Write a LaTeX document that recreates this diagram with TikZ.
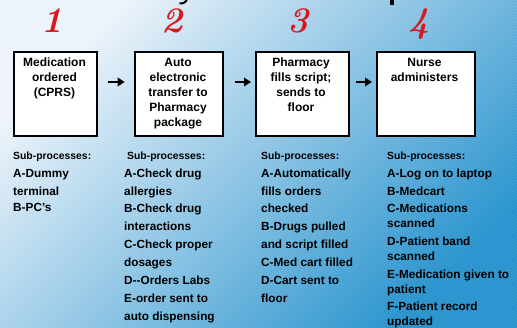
\documentclass[tikz,border=0pt]{standalone}
\usepackage{fontspec}
\newfontfamily\arial{Liberation Sans}
\usetikzlibrary{arrows.meta,patterns}
\definecolor{numred}{RGB}{215,25,30}
\definecolor{bgtop}{RGB}{236,243,250}
\definecolor{bgmid}{RGB}{162,202,228}
\definecolor{bgbot}{RGB}{35,145,205}

\begin{document}
\begin{tikzpicture}[x=1pt,y=-1pt,
  stepbox/.style={draw=black,line width=2pt,fill=white,inner sep=0pt,anchor=north west},
  boxtext/.style={font=\arial\bfseries\fontsize{12}{15}\selectfont,anchor=base,inner sep=0pt},
  subhead/.style={font=\arial\bfseries\fontsize{10.4}{12}\selectfont,anchor=base west,inner sep=0pt},
  subitem/.style={font=\arial\bfseries\fontsize{11.8}{14}\selectfont,anchor=base west,inner sep=0pt},
  stepnum/.style={font=\bfseries\itshape\fontsize{36}{40}\selectfont,text=numred,anchor=base,inner sep=0pt},
  flow/.style={line width=2.6pt,-{Triangle[length=7pt,width=8.5pt]}}]

\useasboundingbox (0,0) rectangle (517,328);

% background: diagonal gradient with fine hatching
\shade[top color=bgtop,middle color=bgmid,bottom color=bgbot,shading angle=45]
  (0,0) rectangle (517,328);
\fill[pattern=north east lines,pattern color=white,opacity=0.15]
  (0,0) rectangle (517,328);

% descenders of the title line above
\fill (390,0) rectangle (393.5,5.5);
\draw[line width=2pt] (187,0) .. controls (185.5,2.5) and (183.5,3.5) .. (179.5,3.5);

% step numbers
\node[stepnum] (n1) at (52,33) {1};
\node[stepnum] (n2) at (172.5,33) {2};
\node[stepnum] (n3) at (298,33) {3};
\node[stepnum] (n4) at (419,33) {4};

% process boxes
\node[stepbox,minimum width=83pt,minimum height=84pt] (b1) at (13,51) {};
\node[stepbox,minimum width=88pt,minimum height=84pt] (b2) at (134,51) {};
\node[stepbox,minimum width=93pt,minimum height=84pt] (b3) at (255,51) {};
\node[stepbox,minimum width=98pt,minimum height=84pt] (b4) at (376,51) {};

\foreach \t/\y [count=\i] in {Medication/67,ordered/82,{(CPRS)}/97}
  \node[boxtext] (ta\i) at (54.5,\y) {\t};
\foreach \t/\y [count=\i] in {Auto/67,electronic/82,transfer to/97,Pharmacy/111.3,package/126.3}
  \node[boxtext] (tb\i) at (178,\y) {\t};
\foreach \t/\y [count=\i] in {Pharmacy/67,fills script;/82,sends to/97,floor/111.3}
  \node[boxtext] (tc\i) at (301,\y) {\t};
\foreach \t/\y [count=\i] in {Nurse/67,administers/82}
  \node[boxtext] (td\i) at (424.5,\y) {\t};

% connectors between the steps
\draw[flow,shorten <=10pt,shorten >=9.3pt] (b1.east |- 0,82) -- (b2.west |- 0,82);
\draw[flow,shorten <=11pt,shorten >=4pt] (b2.east |- 0,82) -- (b3.west |- 0,82);
\draw[flow,shorten <=6pt,shorten >=4pt] (b3.east |- 0,82) -- (b4.west |- 0,82);

% sub-process lists
\node[subhead] (ha) at (13,159.5) {Sub-processes:};
\node[subhead] (hb) at (127,159.5) {Sub-processes:};
\node[subhead] (hc) at (261,159.5) {Sub-processes:};
\node[subhead] (hd) at (387,159.5) {Sub-processes:};

\foreach \t/\y [count=\i] in {A-Dummy/177.5,terminal/196,B-PC’s/212}
  \node[subitem] (sa\i) at (13,\y) {\t};
\foreach \t/\y [count=\i] in {A-Check drug/178,allergies/196,B-Check drug/213,interactions/231,
    C-Check proper/249,dosages/267,D-{}-Orders Labs/285,E-order sent to/303,auto dispensing/321}
  \node[subitem] (sb\i) at (124,\y) {\t};
\foreach \t/\y [count=\i] in {A-Automatically/178,fills orders/196,checked/213,B-Drugs pulled/231,
    and script filled/249,C-Med cart filled/267,D-Cart sent to/285,floor/303}
  \node[subitem] (sc\i) at (261,\y) {\t};
\foreach \t/\y [count=\i] in {A-Log on to laptop/178,B-Medcart/196,C-Medications/213,scanned/228,
    D-Patient band/246,scanned/261,E-Medication given to/279,patient/294,F-Patient record/311,updated/326}
  \node[subitem] (sd\i) at (387,\y) {\t};
\end{tikzpicture}
\end{document}
